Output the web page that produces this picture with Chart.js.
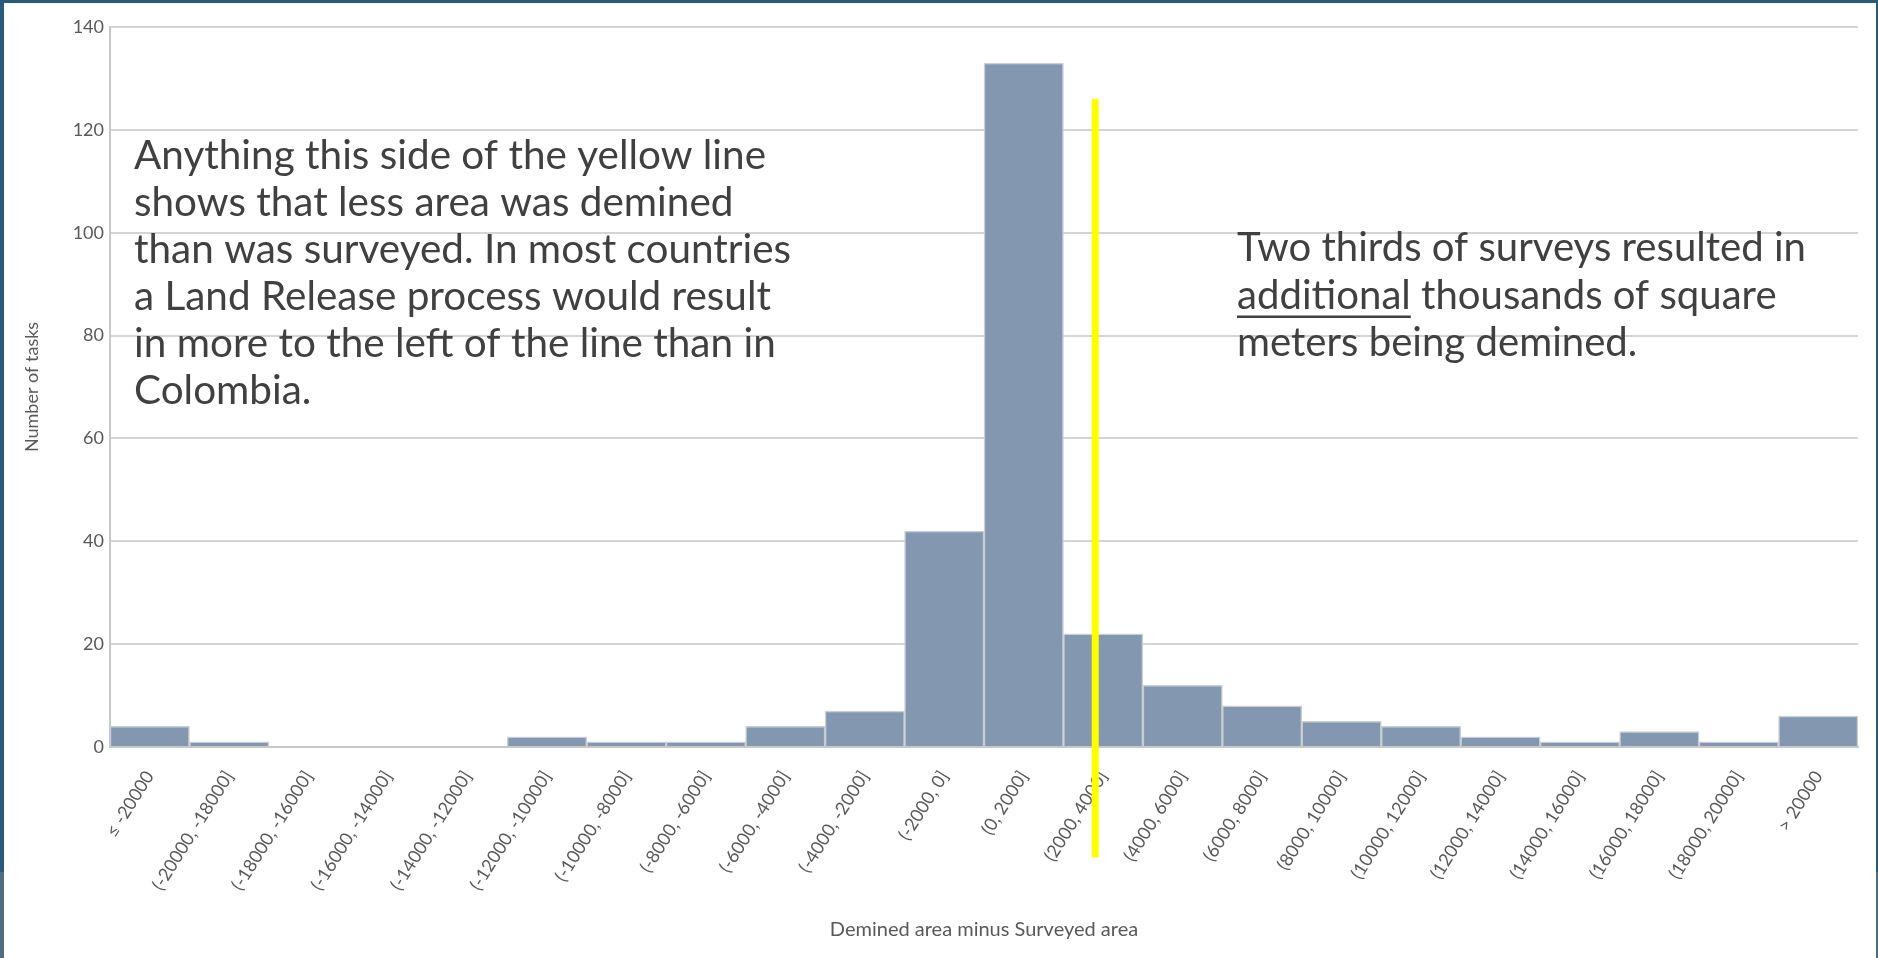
<!DOCTYPE html>
<html>
<head>
<meta charset="utf-8">
<script src="https://cdn.jsdelivr.net/npm/chart.js@4.4.0/dist/chart.umd.min.js"></script>
<style>
  html, body { margin: 0; padding: 0; width: 1878px; height: 958px; overflow: hidden;
    background: linear-gradient(to bottom, #275a7c 0, #275a7c 91%, #4e6e80 91%); }
  #wrap { position: absolute; left: 4px; top: 3px; width: 1872px; height: 955px; background: #fff; }
</style>
</head>
<body>
<div id="wrap"><canvas id="histChart"></canvas></div>
<script>
// bins of (demined area - surveyed area), in m2
const binLabels = ['≤ -20000', '(-20000, -18000]', '(-18000, -16000]', '(-16000, -14000]', '(-14000, -12000]',
  '(-12000, -10000]', '(-10000, -8000]', '(-8000, -6000]', '(-6000, -4000]', '(-4000, -2000]',
  '(-2000, 0]', '(0, 2000]', '(2000, 4000]', '(4000, 6000]', '(6000, 8000]', '(8000, 10000]',
  '(10000, 12000]', '(12000, 14000]', '(14000, 16000]', '(16000, 18000]', '(18000, 20000]', '> 20000'];
const taskCounts = [4, 1, 0, 0, 0, 2, 1, 1, 4, 7, 42, 133, 22, 12, 8, 5, 4, 2, 1, 3, 1, 6];
const yTicks = [0, 20, 40, 60, 80, 100, 120, 140];

// yellow marker line: category position and value range it spans
const markerAt = 11.9;
const markerFrom = -21.5;
const markerTo = 126;

const leftNote = ['Anything this side of the yellow line', 'shows that less area was demined',
  'than was surveyed. In most countries', 'a Land Release process would result',
  'in more to the left of the line than in', 'Colombia.'];
const rightNote = ['Two thirds of surveys resulted in', 'additional thousands of square', 'meters being demined.'];

const gray = '#595959';

const notesPlugin = {
  id: 'notes',
  afterDraw(chart) {
    const ctx = chart.ctx;
    const xs = chart.scales.x, ys = chart.scales.y;
    // yellow line
    const lx = xs.getPixelForValue(markerAt);
    ctx.save();
    ctx.strokeStyle = '#ffff00';
    ctx.lineWidth = 7;
    ctx.beginPath();
    ctx.moveTo(lx, ys.getPixelForValue(markerTo));
    ctx.lineTo(lx, ys.getPixelForValue(markerFrom));
    ctx.stroke();

    // annotation text
    ctx.font = '40px Lato';
    ctx.fillStyle = '#404040';
    ctx.textBaseline = 'alphabetic';
    ctx.textAlign = 'left';
    const sx1 = 632 / ctx.measureText(leftNote[0]).width;
    leftNote.forEach((t, i) => {
      ctx.save();
      ctx.translate(130, 166 + i * 47);
      ctx.scale(sx1, 1);
      ctx.fillText(t, 0, 0);
      ctx.restore();
    });
    const sx2 = 569 / ctx.measureText(rightNote[0]).width;
    rightNote.forEach((t, i) => {
      ctx.save();
      ctx.translate(1233, 258 + i * 47.5);
      ctx.scale(sx2, 1);
      ctx.fillText(t, 0, 0);
      if (i === 1) {
        const w = ctx.measureText('additional').width;
        ctx.fillRect(0, 7, w, 2.5);
      }
      ctx.restore();
    });
    ctx.restore();
  }
};

new Chart(document.getElementById('histChart'), {
  type: 'bar',
  data: {
    labels: binLabels,
    datasets: [{
      label: 'Number of tasks',
      data: taskCounts,
      backgroundColor: '#8497b0',
      borderColor: '#c9ced6',
      borderWidth: 1.5,
      barPercentage: 1,
      categoryPercentage: 1
    }]
  },
  options: {
    responsive: true,
    maintainAspectRatio: false,
    devicePixelRatio: 1,
    animation: false,
    layout: { padding: { left: 0, top: 24, right: 18, bottom: 0 } },
    plugins: { legend: { display: false }, tooltip: { enabled: false } },
    scales: {
      x: {
        grid: { display: false, drawTicks: false },
        border: { color: '#c8c8c8', width: 2 },
        ticks: {
          color: gray, font: { family: 'Lato', size: 18 },
          minRotation: 58, maxRotation: 58, padding: 20, autoSkip: false
        },
        title: {
          display: true, text: 'Demined area minus Surveyed area', color: gray,
          font: { family: 'Lato', size: 20 }, padding: { top: 0, bottom: 16 }
        },
        afterFit(scale) { scale.height = 211; }
      },
      y: {
        min: 0, max: 140,
        afterBuildTicks(scale) { scale.ticks = yTicks.map(v => ({ value: v })); },
        grid: { color: '#d4d4d4', lineWidth: 2, drawTicks: false },
        border: { color: '#c8c8c8', width: 2 },
        ticks: { color: gray, font: { family: 'Lato', size: 18 }, padding: 6 },
        title: {
          display: true, text: 'Number of tasks', color: gray,
          font: { family: 'Lato', size: 18 }, padding: { top: 17, bottom: 0 }
        },
        afterFit(scale) { scale.width = 106; }
      }
    }
  },
  plugins: [notesPlugin]
});
</script>
</body>
</html>
